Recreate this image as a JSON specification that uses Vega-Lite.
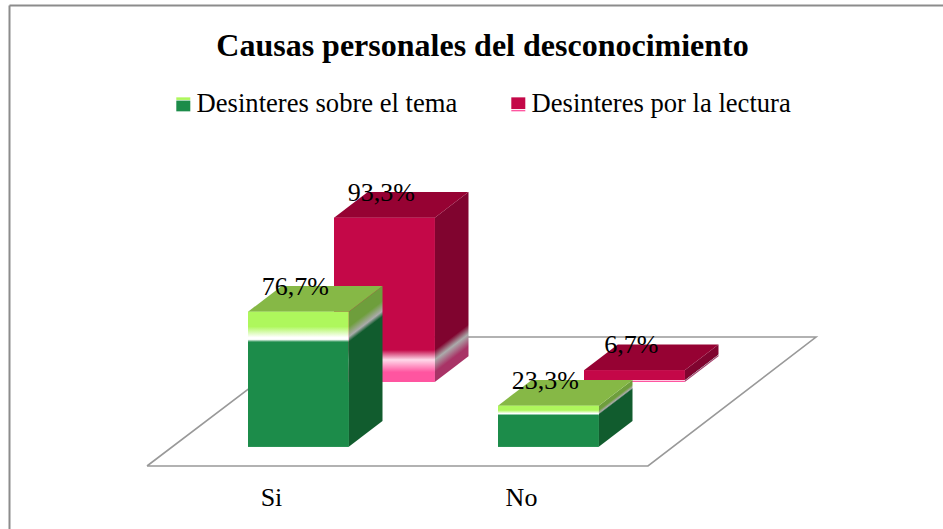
{
"$schema":"https://vega.github.io/schema/vega-lite/v6.json",
"width":943,"height":529,"padding":0,"autosize":{"type":"none"},"background":"#ffffff",
"title":{"text":"Causas personales del desconocimiento","font":"Liberation Serif","fontSize":32,"fontWeight":"bold","color":"#000000","anchor":"middle","orient":"top","frame":"group","offset":-63,"dx":11},
"config":{"view":{"stroke":null},"axis":{"disable":true}},
"data":{"values":[
{"categoria":"Si","serie":"Desinteres sobre el tema","valor":76.7},
{"categoria":"Si","serie":"Desinteres por la lectura","valor":93.3},
{"categoria":"No","serie":"Desinteres sobre el tema","valor":23.3},
{"categoria":"No","serie":"Desinteres por la lectura","valor":6.7}
]},
"transform":[
{"calculate":"datum.categoria=='Si'?0:1","as":"pos"},
{"calculate":"datum.serie=='Desinteres por la lectura'?1:0","as":"back"},
{"calculate":"datum.pos+datum.back*0.344","as":"x0"},
{"calculate":"datum.x0+0.403","as":"x1"},
{"calculate":"datum.back*36.76","as":"base"},
{"calculate":"datum.base+datum.valor","as":"top"},
{"calculate":"replace(format(datum.valor,'.1f'),'.',',')+'%'","as":"etiqueta"},
{"calculate":"[0,1]","as":"e"},
{"flatten":["e"]},
{"calculate":"datum.x0+datum.e*0.135","as":"ta"},
{"calculate":"datum.x1+datum.e*0.135","as":"tb"},
{"calculate":"datum.top+datum.e*14.6","as":"tt"},
{"calculate":"datum.base+datum.e*14.6","as":"tbase"}
],
"layer":[
{"data":{"values":[{"a":-0.404,"b":-10.97,"o":0},{"a":1.6,"b":-10.97,"o":1},{"a":2.272,"b":62.3,"o":2},{"a":0.276,"b":62.3,"o":3},{"a":-0.404,"b":-10.97,"o":4}]},
 "mark":{"type":"line","stroke":"#999999","strokeWidth":1.6},
 "encoding":{"x":{"field":"a","type":"quantitative","scale":{"domain":[-0.992,2.78],"nice":false,"zero":false}},"y":{"field":"b","type":"quantitative","scale":{"domain":[-46.76,253.8],"nice":false,"zero":false}},"order":{"field":"o"}}},
{"data":{"values":[{"a":-0.954,"a2":-0.954,"b":-46.76,"b2":250.7},{"a":-0.954,"a2":2.78,"b":250.7,"b2":250.7}]},
 "mark":{"type":"rule","stroke":"#8c8c8c","strokeWidth":2},
 "encoding":{"x":{"field":"a","type":"quantitative"},"x2":{"field":"a2"},"y":{"field":"b","type":"quantitative"},"y2":{"field":"b2"}}},
{"transform":[{"filter":"datum.e==0"}],
 "mark":{"type":"rect"},
 "encoding":{"x":{"field":"x0","type":"quantitative"},"x2":{"field":"x1"},"y":{"field":"base","type":"quantitative"},"y2":{"field":"top"},
  "fill":{"field":"serie","type":"nominal","scale":{"domain":["Desinteres sobre el tema","Desinteres por la lectura"],"range":[{"signal":"{gradient:'linear',x1:0,y1:0,x2:0,y2:1,stops:[{offset:0,color:'#AEF75C'},{offset:0.15,color:'#AEF75C'},{offset:0.2,color:'#ffffff'},{offset:0.26,color:'#1C8C4A'},{offset:1,color:'#1C8C4A'}]}"},{"signal":"{gradient:'linear',x1:0,y1:0,x2:0,y2:1,stops:[{offset:0,color:'#C40848'},{offset:0.8,color:'#C40848'},{offset:0.86,color:'#ffffff'},{offset:0.94,color:'#FF55A0'},{offset:1,color:'#FF55A0'}]}"}]},
   "legend":{"title":null,"orient":"none","legendX":170,"legendY":91,"direction":"horizontal","columns":2,"symbolType":"square","symbolSize":196,"symbolStrokeWidth":0,"labelFont":"Liberation Serif","labelFontSize":26.6,"labelColor":"#000000","labelOffset":0,"columnPadding":47,"labelLimit":400}}}},
{"transform":[{"filter":"datum.back==1&&datum.pos==0"}],
 "mark":{"type":"area","fill":{"gradient":"linear","x1":0,"y1":0.1353,"x2":0.1149,"y2":0.9844,"stops":[{"offset":0,"color":"#80042F"},{"offset":0.805,"color":"#80042F"},{"offset":0.865,"color":"#ABABAB"},{"offset":0.94,"color":"#A83366"},{"offset":1,"color":"#A83366"}]}},
 "encoding":{"x":{"field":"tb","type":"quantitative"},"y":{"field":"tt","type":"quantitative"},"y2":{"field":"tbase"}}},
{"transform":[{"filter":"datum.back==1&&datum.pos==1"}],
 "mark":{"type":"area","fill":{"gradient":"linear","x1":0,"y1":0.6853,"x2":0.1467,"y2":0.8994,"stops":[{"offset":0,"color":"#80042F"},{"offset":0.805,"color":"#80042F"},{"offset":0.865,"color":"#ABABAB"},{"offset":0.94,"color":"#A83366"},{"offset":1,"color":"#A83366"}]}},
 "encoding":{"x":{"field":"tb","type":"quantitative"},"y":{"field":"tt","type":"quantitative"},"y2":{"field":"tbase"}}},
{"transform":[{"filter":"datum.back==1"}],
 "mark":{"type":"area","orient":"horizontal","fill":"#960233"},
 "encoding":{"y":{"field":"tt","type":"quantitative"},"x":{"field":"ta","type":"quantitative"},"x2":{"field":"tb"},"detail":{"field":"categoria"}}},
{"transform":[{"filter":"datum.back==1&&datum.e==0"}],
 "mark":{"type":"rect","fill":{"gradient":"linear","x1":0,"y1":0,"x2":0,"y2":1,"stops":[{"offset":0,"color":"#C40848"},{"offset":0.805,"color":"#C40848"},{"offset":0.865,"color":"#FFD9EA"},{"offset":0.94,"color":"#FF55A0"},{"offset":1,"color":"#FF55A0"}]}},
 "encoding":{"x":{"field":"x0","type":"quantitative"},"x2":{"field":"x1"},"y":{"field":"base","type":"quantitative"},"y2":{"field":"top"}}},
{"transform":[{"filter":"datum.back==0&&datum.pos==0"}],
 "mark":{"type":"area","fill":{"gradient":"linear","x1":0,"y1":0.16,"x2":0.131,"y2":0.979,"stops":[{"offset":0,"color":"#6E9E3C"},{"offset":0.11,"color":"#6E9E3C"},{"offset":0.185,"color":"#ABABAB"},{"offset":0.225,"color":"#115C2E"},{"offset":1,"color":"#115C2E"}]}},
 "encoding":{"x":{"field":"tb","type":"quantitative"},"y":{"field":"tt","type":"quantitative"},"y2":{"field":"tbase"}}},
{"transform":[{"filter":"datum.back==0&&datum.pos==1"}],
 "mark":{"type":"area","fill":{"gradient":"linear","x1":0,"y1":0.3853,"x2":0.2062,"y2":0.9205,"stops":[{"offset":0,"color":"#6E9E3C"},{"offset":0.11,"color":"#6E9E3C"},{"offset":0.185,"color":"#ABABAB"},{"offset":0.225,"color":"#115C2E"},{"offset":1,"color":"#115C2E"}]}},
 "encoding":{"x":{"field":"tb","type":"quantitative"},"y":{"field":"tt","type":"quantitative"},"y2":{"field":"tbase"}}},
{"transform":[{"filter":"datum.back==0"}],
 "mark":{"type":"area","orient":"horizontal","fill":"#86B846"},
 "encoding":{"y":{"field":"tt","type":"quantitative"},"x":{"field":"ta","type":"quantitative"},"x2":{"field":"tb"},"detail":{"field":"categoria"}}},
{"transform":[{"filter":"datum.back==0&&datum.e==0"}],
 "mark":{"type":"rect","fill":{"gradient":"linear","x1":0,"y1":0,"x2":0,"y2":1,"stops":[{"offset":0,"color":"#AEF75C"},{"offset":0.11,"color":"#AEF75C"},{"offset":0.19,"color":"#FFFFFF"},{"offset":0.205,"color":"#FFFFFF"},{"offset":0.225,"color":"#1C8C4A"},{"offset":1,"color":"#1C8C4A"}]}},
 "encoding":{"x":{"field":"x0","type":"quantitative"},"x2":{"field":"x1"},"y":{"field":"base","type":"quantitative"},"y2":{"field":"top"}}},
{"transform":[{"filter":"datum.e==0"},{"calculate":"(datum.x0+datum.x1)/2","as":"xm"}],
 "mark":{"type":"text","font":"Liberation Serif","fontSize":26,"color":"#000000","baseline":"alphabetic","align":"center","dy":-17,"dx":-3},
 "encoding":{"x":{"field":"xm","type":"quantitative"},"y":{"field":"top","type":"quantitative"},"text":{"field":"etiqueta"}}},
{"transform":[{"filter":"datum.e==0&&datum.back==0"},{"calculate":"datum.pos+0.094","as":"xl"}],
 "mark":{"type":"text","font":"Liberation Serif","fontSize":26,"color":"#000000","baseline":"alphabetic","align":"center"},
 "encoding":{"x":{"field":"xl","type":"quantitative"},"y":{"datum":-33.7},"text":{"field":"categoria"}}}
]
}
